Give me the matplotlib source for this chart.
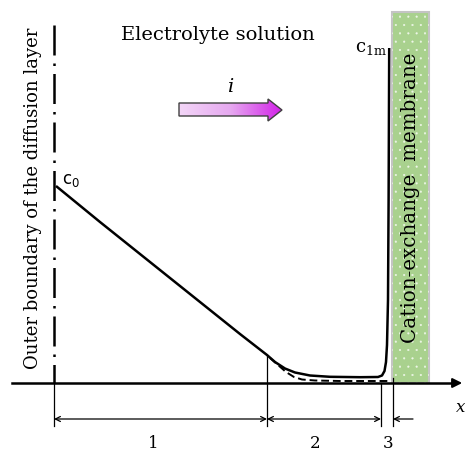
import numpy as np
import matplotlib.pyplot as plt
from matplotlib.path import Path
from matplotlib.patches import Rectangle, PathPatch
from matplotlib.colors import LinearSegmentedColormap

# schematic coordinates (pixels, y pointing down)
curve_x = [56, 100, 150, 200, 240, 267, 275, 285, 295, 310, 330, 360, 378, 382, 384.5, 386, 387, 388, 388.6, 389.2]
curve_y = [186, 222, 262, 302, 334, 355, 362, 368.5, 372.5, 375.5, 376.8, 377.2, 377, 375.5, 371, 362, 345, 300, 200, 48]
dashed_x = [270, 278, 286, 294, 302, 315, 340, 370, 390]
dashed_y = [358, 365, 372, 377, 379.5, 380.5, 381, 381, 381]
zone_edges = [54, 267, 381, 393]
zone_labels = ['1', '2', '3']
zone_label_x = [153, 315, 388]
membrane = [392, 429]

serif = 'DejaVu Serif'
plt.rcParams['hatch.linewidth'] = 0.3

fig = plt.figure(figsize=(4.65, 4.53), dpi=100)
ax = fig.add_axes([0, 0, 1, 1])
ax.set_xlim(0, 465)
ax.set_ylim(453, 0)
ax.axis('off')

# membrane
ax.add_patch(Rectangle((membrane[0], 12), membrane[1] - membrane[0], 383 - 12,
                       facecolor='#a9d18e', edgecolor='#c4c4c4', lw=1.5, zorder=1))
ax.add_patch(Rectangle((membrane[0], 12), membrane[1] - membrane[0], 383 - 12,
                       facecolor='none', edgecolor='#eef6e8', lw=0, hatch='..', zorder=1))

# x axis
ax.plot([12, 455], [383, 383], color='black', lw=1.8, zorder=3)
ax.annotate('', xy=(465, 383), xytext=(452, 383),
            arrowprops=dict(arrowstyle='-|>', color='black', lw=1.5, mutation_scale=14))
ax.text(465, 407, 'x', fontsize=12, family=serif, style='italic', ha='right', va='center')

# outer boundary of the diffusion layer
ax.plot([54, 54], [25, 383], color='black', lw=1.8, dashes=(12, 3.2, 1, 3.2), zorder=3)

# concentration profiles
ax.plot(curve_x, curve_y, color='black', lw=1.8, zorder=4, solid_capstyle='butt')
ax.plot(dashed_x, dashed_y, color='black', lw=1.4, dashes=(4, 2), zorder=4)

# zone markers
tick_top = [383, 355, 383, 378]
for xe, yt in zip(zone_edges, tick_top):
    ax.plot([xe, xe], [yt, 426], color='black', lw=0.9)
arr = dict(arrowstyle='<->', color='black', lw=0.9, mutation_scale=9, shrinkA=0, shrinkB=0)
ax.annotate('', xy=(zone_edges[0], 419), xytext=(zone_edges[1], 419), arrowprops=arr)
ax.annotate('', xy=(zone_edges[1], 419), xytext=(zone_edges[2], 419), arrowprops=arr)
ax.annotate('', xy=(zone_edges[3], 419), xytext=(413, 419),
            arrowprops=dict(arrowstyle='->', color='black', lw=0.9, mutation_scale=9, shrinkA=0, shrinkB=0))
for lab, lx in zip(zone_labels, zone_label_x):
    ax.text(lx, 444, lab, fontsize=12, family=serif, ha='center', va='center')

# texts
ax.text(218, 35, 'Electrolyte solution', fontsize=14, family=serif, ha='center', va='center')
ax.text(33, 198, 'Outer boundary of the diffusion layer', fontsize=13, family=serif,
        rotation=90, ha='center', va='center')
ax.text(410, 198, 'Cation-exchange  membrane', fontsize=14.3, family=serif,
        rotation=90, ha='center', va='center')
ax.text(62, 180, r'c$_\mathregular{0}$', fontsize=12, ha='left', va='center')
ax.text(387, 48, r'c$_\mathregular{1m}$', fontsize=13, family=serif, ha='right', va='center')
ax.text(230, 87, 'i', fontsize=14, family=serif, style='italic', ha='center', va='center')

# current arrow with gradient fill
verts = [(179, 103), (268, 103), (268, 99), (282, 110), (268, 121), (268, 116), (179, 116), (179, 103)]
codes = [Path.MOVETO] + [Path.LINETO] * 6 + [Path.CLOSEPOLY]
arrow = PathPatch(Path(verts, codes), facecolor='none', edgecolor='#404040', lw=1, zorder=5)
ax.add_patch(arrow)
grad = np.linspace(0, 1, 256).reshape(1, -1)
cmap = LinearSegmentedColormap.from_list('pk', ['#f3d6f7', '#e6a8f0', '#d21fe8'])
im = ax.imshow(grad, cmap=cmap, extent=(179, 282, 121, 99), aspect='auto', zorder=4)
im.set_clip_path(arrow)
ax.set_xlim(0, 465)
ax.set_ylim(453, 0)

fig.savefig('out.png', dpi=100)
